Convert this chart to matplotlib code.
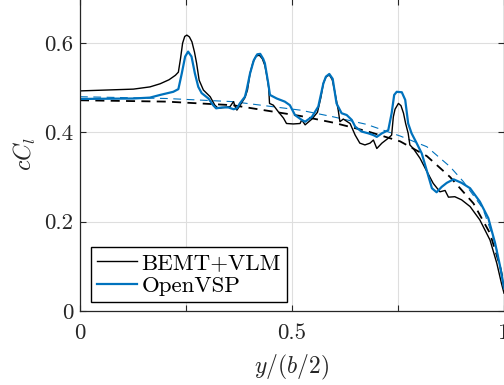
import numpy as np
import matplotlib
matplotlib.use("Agg")
import matplotlib.pyplot as plt

plt.rcParams['font.family'] = 'cmr10'
plt.rcParams['mathtext.fontset'] = 'cm'
plt.rcParams['axes.formatter.use_mathtext'] = True

# BEMT+VLM, solid black
x_bemt = [0, 0.126, 0.165, 0.189, 0.210, 0.225, 0.232, 0.237, 0.242, 0.247, 0.252, 0.258,
          0.264, 0.270, 0.275, 0.281, 0.291, 0.307, 0.318, 0.326, 0.340, 0.354, 0.362, 0.366,
          0.370, 0.377, 0.389, 0.395, 0.401, 0.408, 0.415, 0.423, 0.430, 0.436, 0.441, 0.445,
          0.447, 0.456, 0.468, 0.480, 0.487, 0.503, 0.519, 0.523, 0.531, 0.547, 0.560, 0.568,
          0.574, 0.580, 0.588, 0.595, 0.601, 0.609, 0.613, 0.621, 0.637, 0.649, 0.660, 0.672,
          0.684, 0.692, 0.700, 0.712, 0.727, 0.735, 0.739, 0.743, 0.751, 0.757, 0.763, 0.768,
          0.774, 0.778, 0.786, 0.802, 0.814, 0.833, 0.849, 0.861, 0.869, 0.884, 0.900, 0.920,
          0.943, 0.967, 0.983, 0.994, 1.0]
y_bemt = [0.493, 0.497, 0.502, 0.509, 0.518, 0.528, 0.535, 0.565, 0.600, 0.615, 0.618, 0.614,
          0.603, 0.580, 0.555, 0.517, 0.495, 0.480, 0.461, 0.454, 0.456, 0.458, 0.469, 0.458,
          0.450, 0.460, 0.478, 0.495, 0.532, 0.557, 0.571, 0.573, 0.565, 0.550, 0.525, 0.500,
          0.465, 0.461, 0.446, 0.432, 0.420, 0.419, 0.420, 0.428, 0.417, 0.430, 0.445, 0.478,
          0.510, 0.524, 0.529, 0.518, 0.491, 0.450, 0.424, 0.430, 0.420, 0.394, 0.376, 0.372,
          0.376, 0.383, 0.364, 0.376, 0.387, 0.394, 0.435, 0.452, 0.465, 0.460, 0.443, 0.420,
          0.398, 0.372, 0.364, 0.342, 0.320, 0.286, 0.267, 0.270, 0.255, 0.256, 0.249, 0.234,
          0.204, 0.159, 0.107, 0.062, 0.040]

# OpenVSP, solid blue
x_vsp = [0, 0.126, 0.165, 0.189, 0.220, 0.232, 0.240, 0.248, 0.255, 0.263, 0.271, 0.279,
         0.287, 0.303, 0.314, 0.321, 0.335, 0.350, 0.362, 0.370, 0.377, 0.389, 0.393, 0.401,
         0.410, 0.418, 0.425, 0.432, 0.436, 0.444, 0.448, 0.464, 0.483, 0.495, 0.507, 0.523,
         0.531, 0.547, 0.562, 0.574, 0.580, 0.588, 0.596, 0.605, 0.617, 0.629, 0.641, 0.649,
         0.664, 0.680, 0.692, 0.700, 0.712, 0.727, 0.735, 0.741, 0.747, 0.759, 0.767, 0.774,
         0.782, 0.794, 0.806, 0.814, 0.830, 0.841, 0.853, 0.865, 0.881, 0.900, 0.920, 0.943,
         0.963, 0.979, 0.991, 1.0]
y_vsp = [0.475, 0.476, 0.478, 0.484, 0.491, 0.497, 0.532, 0.570, 0.581, 0.570, 0.532, 0.502,
         0.488, 0.476, 0.461, 0.454, 0.456, 0.456, 0.452, 0.454, 0.465, 0.480, 0.495, 0.532,
         0.562, 0.575, 0.576, 0.565, 0.555, 0.510, 0.484, 0.476, 0.469, 0.461, 0.439, 0.428,
         0.424, 0.435, 0.458, 0.510, 0.525, 0.531, 0.520, 0.465, 0.443, 0.439, 0.428, 0.413,
         0.402, 0.398, 0.394, 0.390, 0.398, 0.405, 0.443, 0.484, 0.491, 0.490, 0.473, 0.420,
         0.398, 0.376, 0.353, 0.327, 0.275, 0.266, 0.278, 0.287, 0.295, 0.287, 0.275, 0.245,
         0.208, 0.152, 0.099, 0.051]

# reference distributions, dashed
x_ref_k = [0, 0.204, 0.360, 0.519, 0.597, 0.676, 0.755, 0.818, 0.873, 0.928, 0.967, 0.991, 1.0]
y_ref_k = [0.472, 0.469, 0.461, 0.437, 0.422, 0.403, 0.380, 0.347, 0.300, 0.241, 0.174, 0.099, 0.060]
x_ref_b = [0, 0.204, 0.360, 0.519, 0.597, 0.676, 0.755, 0.818, 0.873, 0.904, 0.950, 0.980, 1.0]
y_ref_b = [0.480, 0.476, 0.469, 0.450, 0.435, 0.418, 0.392, 0.368, 0.323, 0.290, 0.230, 0.150, 0.055]

blue = '#0072BD'
axcol = '#262626'

fig = plt.figure(figsize=(5.04, 3.85), dpi=100)
ax = fig.add_axes([80/504, 74/385, 424/504, 312.5/385])

ax.plot(x_ref_k, y_ref_k, '--', color='black', lw=1.3, dashes=(5, 3.5))
ax.plot(x_ref_b, y_ref_b, '--', color=blue, lw=0.8, dashes=(7, 5))
h1, = ax.plot(x_bemt, y_bemt, color='black', lw=1.0, label='BEMT+VLM')
h2, = ax.plot(x_vsp, y_vsp, color=blue, lw=1.6, label='OpenVSP')

ax.set_xlim(0, 1)
ax.set_ylim(0, 0.7)
ax.set_xticks([0, 0.25, 0.5, 0.75, 1])
ax.set_xticklabels(['0', '', '0.5', '', '1'])
ax.set_yticks([0, 0.2, 0.4, 0.6])
ax.set_yticklabels(['0', '0.2', '0.4', '0.6'])
ax.grid(True, color='#dedede', lw=0.8)
ax.set_axisbelow(True)
ax.tick_params(direction='in', length=4, width=0.8, top=True, right=True,
               labelsize=16.5, colors=axcol)
ax.tick_params(axis='x', pad=9)
ax.tick_params(axis='y', pad=5)
for s in ax.spines.values():
    s.set_color(axcol)
    s.set_linewidth(0.9)

ax.set_xlabel(r'$y/(b/2)$', fontsize=17, color=axcol)
ax.set_ylabel(r'$cC_l$', fontsize=17, color=axcol)
ax.xaxis.set_label_coords(0.5, -0.135)
ax.yaxis.set_label_coords(-0.10, 0.5)

leg = ax.legend(handles=[h1, h2], loc='lower left', bbox_to_anchor=(0.026, 0.029),
                borderaxespad=0, fontsize=16.5, handlelength=1.75, handletextpad=0.2,
                borderpad=0.25, labelspacing=0.15, fancybox=False, framealpha=1)
leg.get_frame().set_edgecolor('black')
leg.get_frame().set_linewidth(1.0)

fig.savefig('out.png', dpi=100)
